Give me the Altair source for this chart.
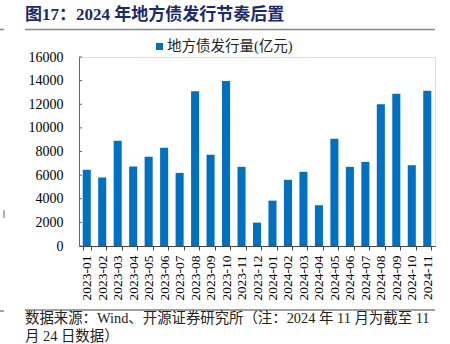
import altair as alt
import pandas as pd

months = ["2023-01","2023-02","2023-03","2023-04","2023-05","2023-06","2023-07","2023-08",
          "2023-09","2023-10","2023-11","2023-12","2024-01","2024-02","2024-03","2024-04",
          "2024-05","2024-06","2024-07","2024-08","2024-09","2024-10","2024-11"]
issuance = [6450, 5800, 8900, 6730, 7550, 8310, 6190, 13090, 7720, 13960, 6700, 1980,
            3840, 5600, 6280, 3450, 9070, 6700, 7120, 12010, 12890, 6840, 13140]
y_ticks = [0, 2000, 4000, 6000, 8000, 10000, 12000, 14000, 16000]

title_text = "图17：2024 年地方债发行节奏后置"
legend_text = "地方债发行量(亿元)"
source_lines = ["数据来源：Wind、开源证券研究所（注：2024 年 11 月为截至 11",
                "月 24 日数据）"]

SERIF = "Liberation Serif, Noto Sans CJK SC"
BLUE = "#0070C0"
W, H = 356, 189

df = pd.DataFrame({"month": months, "value": issuance})

y_scale = alt.Scale(domain=[0, 16000], nice=False)
y_axis = alt.Axis(values=y_ticks, grid=False, tickSize=0, labelPadding=16,
                  format="d", labelOverlap=False,
                  labelFont=SERIF, labelFontSize=14, labelColor="#000",
                  domainColor="#666")

bars = alt.Chart(df).mark_bar(color=BLUE).encode(
    x=alt.X("month:N", sort=months, title=None,
            scale=alt.Scale(paddingInner=0.48, paddingOuter=0.24),
            axis=alt.Axis(labelAngle=270, labelFont=SERIF, labelFontSize=13.5,
                          labelColor="#000", tickBand="extent", tickSize=4,
                          labelPadding=5, domainColor="#444", tickColor="#444",
                          labelBaseline="middle", labelOverlap=False)),
    y=alt.Y("value:Q", title=None, scale=y_scale, axis=y_axis),
)

ticks = alt.Chart(pd.DataFrame({"value": y_ticks})).mark_rule(color="#666").encode(
    y=alt.Y("value:Q", title=None, scale=y_scale, axis=y_axis),
    x=alt.value(0), x2=alt.value(3),
)

title = alt.Chart(pd.DataFrame({"t": [title_text]})).mark_text(
    align="left", baseline="middle", font=SERIF, fontSize=17, fontWeight="bold",
    color="#1B2A6B").encode(text="t:N", x=alt.value(-54), y=alt.value(-42))

underline = alt.Chart(pd.DataFrame({"a": [0]})).mark_rule(color="#888", strokeWidth=1.5).encode(
    x=alt.value(-54), x2=alt.value(356), y=alt.value(-27.5))

legend_sq = alt.Chart(pd.DataFrame({"a": [0]})).mark_rect(color=BLUE).encode(
    x=alt.value(77), x2=alt.value(84), y=alt.value(-14), y2=alt.value(-7))

legend_tx = alt.Chart(pd.DataFrame({"t": [legend_text]})).mark_text(
    align="left", baseline="middle", font=SERIF, fontSize=14.5, color="#222").encode(
    text="t:N", x=alt.value(88), y=alt.value(-10.5))

src_line = alt.Chart(pd.DataFrame({"a": [0]})).mark_rule(color="#444", strokeWidth=1).encode(
    x=alt.value(-54), x2=alt.value(356), y=alt.value(253))

src1 = alt.Chart(pd.DataFrame({"t": [source_lines[0]]})).mark_text(
    align="left", baseline="middle", font=SERIF, fontSize=14.4, color="#222").encode(
    text="t:N", x=alt.value(-54), y=alt.value(262))
src2 = alt.Chart(pd.DataFrame({"t": [source_lines[1]]})).mark_text(
    align="left", baseline="middle", font=SERIF, fontSize=14.4, color="#222").encode(
    text="t:N", x=alt.value(-54), y=alt.value(280))

edge1 = alt.Chart(pd.DataFrame({"a": [0]})).mark_rule(color="#888", strokeWidth=1.5).encode(
    x=alt.value(-79), x2=alt.value(-75), y=alt.value(-27.5))
edge2 = alt.Chart(pd.DataFrame({"a": [0]})).mark_rule(color="#444", strokeWidth=1).encode(
    x=alt.value(-79), x2=alt.value(-75), y=alt.value(254))
edge3 = alt.Chart(pd.DataFrame({"a": [0]})).mark_rule(color="#666", strokeWidth=1).encode(
    x=alt.value(-75), y=alt.value(153), y2=alt.value(161))

chart = alt.layer(bars, ticks, title, underline, legend_sq, legend_tx, src_line, src1, src2,
                  edge1, edge2, edge3).properties(
    width=W, height=H,
    autosize=alt.AutoSizeParams(type="none"),
    padding={"left": 79, "top": 57, "right": 15, "bottom": 98},
).configure_view(stroke=None).configure(background="white")

chart.save("out.html", embed_options={"renderer": "svg", "actions": False})
